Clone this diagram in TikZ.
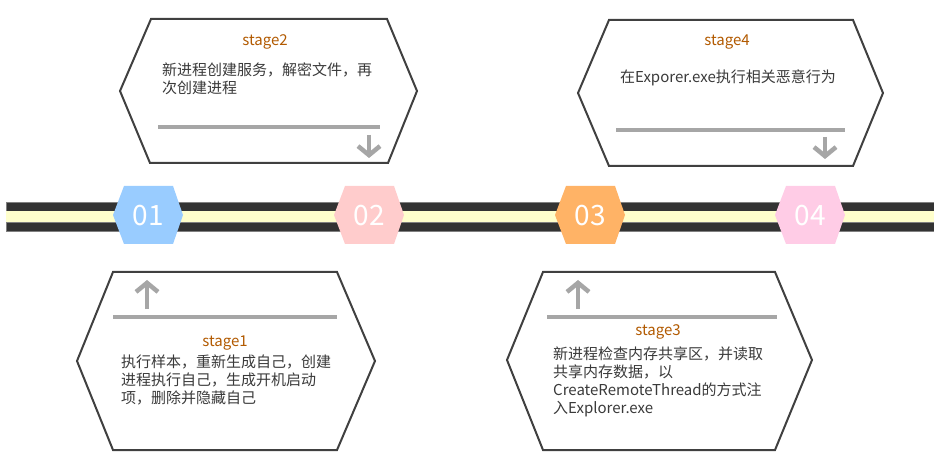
\documentclass[tikz,border=0pt]{standalone}
\usepackage{fontspec}
\setmainfont{Noto Sans CJK SC}
\usetikzlibrary{arrows.meta}

\definecolor{bandblack}{HTML}{333333}
\definecolor{bandyellow}{HTML}{FFFFCC}
\definecolor{boxline}{HTML}{404040}
\definecolor{ruleline}{HTML}{A6A6A6}
\definecolor{labelbrown}{HTML}{B25A00}
\definecolor{textgray}{HTML}{3A3A3A}
\definecolor{hexblue}{HTML}{99CCFF}
\definecolor{hexrose}{HTML}{FFCCCC}
\definecolor{hexorange}{HTML}{FFB366}
\definecolor{hexpink}{HTML}{FFCCE6}

\tikzset{
    stageframe/.style={draw=boxline, line width=2pt, line join=miter, fill=white},
    stagerule/.style={draw=ruleline, line width=4pt},
    stagearrow/.style={draw=ruleline, line width=4.5pt, -{Straight Barb[length=9pt,width=22pt]}},
    stagelabel/.style={text=labelbrown, inner sep=0pt, font=\fontsize{15}{18}\selectfont},
    stagetext/.style={text=textgray, inner sep=0pt, align=left, font=\fontsize{15}{18}\selectfont},
    numtext/.style={text=white, inner sep=0pt, font=\fontsize{28}{30}\selectfont},
}

% hexagon on the band: centre x, colour, number
\newcommand{\bandhex}[3]{
    \fill[#2] (#1-24,186) -- (#1+25,186) -- (#1+35,215) -- (#1+25,244) -- (#1-24,244) -- (#1-35,215) -- cycle;
    \node[numtext] (n#3) at (#1,216) {#3};
}

\begin{document}
\begin{tikzpicture}[x=1pt, y=-1pt]

    \useasboundingbox (0,0) rectangle (934,470);

    % band
    \fill[bandblack, draw=gray, line width=0.8pt] (6,202) rectangle (934,211);
    \fill[bandyellow] (6,211) rectangle (934,222);
    \fill[bandblack, draw=gray, line width=0.8pt] (6,222) rectangle (934,231);

    \bandhex{148}{hexblue}{01}
    \bandhex{369}{hexrose}{02}
    \bandhex{590}{hexorange}{03}
    \bandhex{810}{hexpink}{04}

    % stage2 (top left)
    \draw[stageframe] (120,91) -- (151,19) -- (387,19) -- (417,91) -- (388,163) -- (150,163) -- cycle;
    \node[stagelabel] (s2) at (265,42) {stage2};
    \node[stagetext, anchor=north west] (t2) at (162,63) {新进程创建服务，解密文件，再\\次创建进程};
    \coordinate (r2a) at (158,127);
    \coordinate (r2b) at (380,127);
    \draw[stagerule] (r2a) -- (r2b);
    \coordinate (a2a) at (369,135);
    \coordinate (a2b) at (369,158);
    \draw[stagearrow] (a2a) -- (a2b);

    % stage4 (top right)
    \draw[stageframe] (578,93) -- (609,20) -- (853,20) -- (883,93) -- (853,166) -- (609,166) -- cycle;
    \node[stagelabel] (s4) at (727,42) {stage4};
    \node[stagetext] (t4) at (728,78) {在Exporer.exe执行相关恶意行为};
    \coordinate (r4a) at (616,130);
    \coordinate (r4b) at (845,130);
    \draw[stagerule] (r4a) -- (r4b);
    \coordinate (a4a) at (825,137);
    \coordinate (a4b) at (825,159);
    \draw[stagearrow] (a4a) -- (a4b);

    % stage1 (bottom left)
    \draw[stageframe] (77,361) -- (113,272) -- (337,272) -- (375,361) -- (337,450) -- (113,450) -- cycle;
    \coordinate (a1a) at (147,309);
    \coordinate (a1b) at (147,280);
    \draw[stagearrow] (a1a) -- (a1b);
    \coordinate (r1a) at (113,317);
    \coordinate (r1b) at (337,317);
    \draw[stagerule] (r1a) -- (r1b);
    \node[stagelabel] (s1) at (225,343) {stage1};
    \node[stagetext, anchor=north west] (t1) at (121,355) {执行样本，重新生成自己，创建\\进程执行自己，生成开机启动\\项，删除并隐藏自己};

    % stage3 (bottom right)
    \draw[stageframe] (507,360) -- (543,272) -- (775,272) -- (812,360) -- (775,450) -- (543,450) -- cycle;
    \coordinate (a3a) at (578,309);
    \coordinate (a3b) at (578,280);
    \draw[stagearrow] (a3a) -- (a3b);
    \coordinate (r3a) at (547,317);
    \coordinate (r3b) at (777,317);
    \draw[stagerule] (r3a) -- (r3b);
    \node[stagelabel] (s3) at (658,332) {stage3};
    \node[stagetext, anchor=north west] (t3) at (553,347) {新进程检查内存共享区，并读取\\共享内存数据，以\\CreateRemoteThread的方式注\\入Explorer.exe};

\end{tikzpicture}
\end{document}
